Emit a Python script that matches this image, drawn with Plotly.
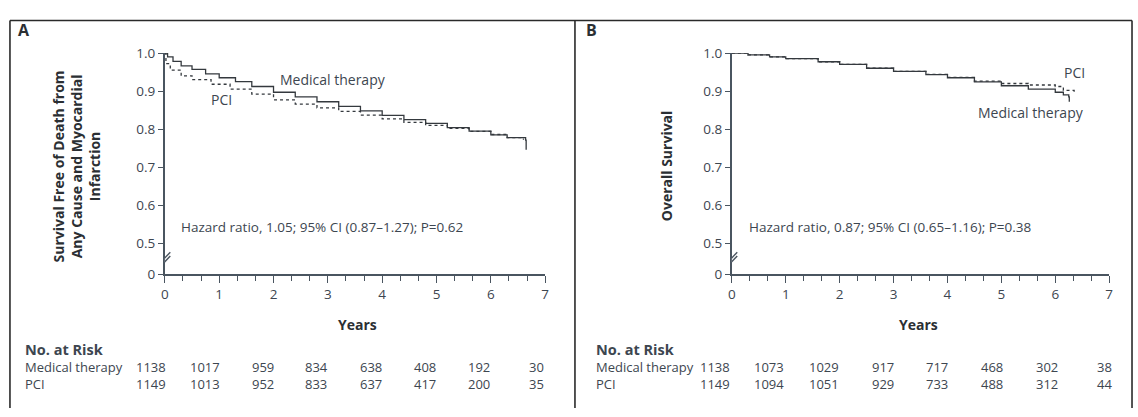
import plotly.graph_objects as go

W, H = 1138, 417
FONT = "Open Sans"
TXT = "#3d4650"
BOLD = "#2b2f33"
AXIS = "#4a5560"
LINE = "#34393e"

# ---- survival curves (years, proportion surviving) ----
a_med_t = [0, 0.05, 0.15, 0.3, 0.5, 0.75, 1.0, 1.3, 1.6, 2.0, 2.4, 2.8, 3.2, 3.6,
           4.0, 4.4, 4.8, 5.2, 5.6, 6.0, 6.3, 6.64, 6.65]
a_med_s = [1.0, 0.99, 0.978, 0.966, 0.957, 0.945, 0.935, 0.925, 0.912, 0.897, 0.885,
           0.872, 0.86, 0.848, 0.836, 0.825, 0.815, 0.804, 0.795, 0.785, 0.778, 0.771, 0.746]
a_pci_t = [0, 0.02, 0.1, 0.3, 0.5, 0.85, 1.2, 1.6, 2.0, 2.4, 2.8, 3.2, 3.6, 4.0,
           4.4, 4.8, 5.2, 5.6, 6.0, 6.3, 6.6]
a_pci_s = [1.0, 0.972, 0.955, 0.94, 0.93, 0.918, 0.905, 0.892, 0.877, 0.866, 0.856,
           0.847, 0.837, 0.827, 0.818, 0.81, 0.802, 0.794, 0.786, 0.778, 0.772]

b_med_t = [0, 0.3, 0.7, 1.0, 1.6, 2.0, 2.5, 3.0, 3.6, 4.0, 4.5, 5.0, 5.5, 6.0, 6.15, 6.25, 6.26]
b_med_s = [1.0, 0.995, 0.99, 0.985, 0.977, 0.97, 0.96, 0.952, 0.943, 0.935, 0.924,
           0.914, 0.905, 0.897, 0.89, 0.885, 0.872]
b_pci_t = [0, 0.3, 0.7, 1.0, 1.6, 2.0, 2.5, 3.0, 3.6, 4.0, 4.5, 5.0, 5.5, 6.0, 6.15, 6.35]
b_pci_s = [1.0, 0.995, 0.99, 0.985, 0.977, 0.97, 0.96, 0.952, 0.944, 0.936, 0.926,
           0.92, 0.916, 0.912, 0.902, 0.897]

# ---- axes ----
year_ticks = [0, 1, 2, 3, 4, 5, 6, 7]
y_zero = 0.4196  # position used for the "0" tick below the axis break
y_ticks = [y_zero, 0.5, 0.6, 0.7, 0.8, 0.9, 1.0]
y_tick_labels = ["0", "0.5", "0.6", "0.7", "0.8", "0.9", "1.0"]

# ---- numbers at risk ----
risk_groups = ["Medical therapy", "PCI"]
a_risk_med = [1138, 1017, 959, 834, 638, 408, 192, 30]
a_risk_pci = [1149, 1013, 952, 833, 637, 417, 200, 35]
b_risk_med = [1138, 1073, 1029, 917, 717, 468, 302, 38]
b_risk_pci = [1149, 1094, 1051, 929, 733, 488, 312, 44]


def px(x):
    return x / W


def py(y):
    return 1 - y / H


fig = go.Figure()

for t, s, xa, ya, dash in [
    (a_med_t, a_med_s, "x", "y", "solid"),
    (a_pci_t, a_pci_s, "x", "y", "dot"),
    (b_med_t, b_med_s, "x2", "y2", "solid"),
    (b_pci_t, b_pci_s, "x2", "y2", "dot"),
]:
    fig.add_trace(go.Scatter(
        x=t, y=s, mode="lines", line=dict(shape="hv", color=LINE, width=1.3, dash=dash),
        xaxis=xa, yaxis=ya, showlegend=False, hoverinfo="skip", cliponaxis=False))

xaxis_common = dict(
    range=[0, 7], tickvals=year_ticks, ticktext=[str(v) for v in year_ticks],
    showline=True, linecolor=AXIS, linewidth=1.6, ticks="outside", ticklen=7,
    tickwidth=1.4, tickcolor=AXIS, showgrid=False, zeroline=False,
    tickfont=dict(family=FONT, size=13.5, color=TXT),
    minor=dict(dtick=1 / 3, tick0=0, ticks="outside", ticklen=5, tickwidth=1.2,
               tickcolor=AXIS, showgrid=False),
    fixedrange=True,
)
yaxis_common = dict(
    range=[y_zero, 1.0], tickvals=y_ticks, ticktext=y_tick_labels,
    showline=True, linecolor=AXIS, linewidth=1.8, ticks="outside", ticklen=5,
    tickwidth=1.4, tickcolor=AXIS, showgrid=False, zeroline=False,
    tickfont=dict(family=FONT, size=13.5, color=TXT), fixedrange=True,
)

y_dom = [py(277), py(46)]
fig.update_layout(
    width=W, height=H, margin=dict(l=0, r=0, t=0, b=0),
    paper_bgcolor="white", plot_bgcolor="white",
    xaxis=dict(domain=[px(162), px(545)], anchor="y", **xaxis_common),
    yaxis=dict(domain=y_dom, anchor="x", **yaxis_common),
    xaxis2=dict(domain=[px(733), px(1113)], anchor="y2", **xaxis_common),
    yaxis2=dict(domain=y_dom, anchor="x2", **yaxis_common),
)

shapes = []
# panel frames
frame = dict(type="line", xref="paper", yref="paper", line=dict(color="#2a2a2a", width=1.6))
shapes.append(dict(frame, x0=px(6), x1=px(1136), y0=py(12), y1=py(12)))
for xx in (6, 575, 1136):
    shapes.append(dict(frame, x0=px(xx), x1=px(xx), y0=py(12), y1=0))

# axis break marks on each y axis
for xr, yr in (("x", "y"), ("x2", "y2")):
    dx = 0.1
    shapes.append(dict(type="path", xref=xr, yref=yr, layer="above",
                       path=f"M {-dx},{0.447} L {dx},{0.477} L {dx},{0.467} L {-dx},{0.437} Z",
                       fillcolor="white", line=dict(width=0)))
    for off in (0.0, -0.01):
        shapes.append(dict(type="line", xref=xr, yref=yr, layer="above",
                           x0=-dx, x1=dx, y0=0.447 + off, y1=0.477 + off,
                           line=dict(color=AXIS, width=1.4)))
fig.update_layout(shapes=shapes)

ann = []


def text(x, y, s, size=14, color=TXT, bold=False, xanchor="center", xref="paper", yref="paper",
         angle=0, yanchor="middle", align="center"):
    ann.append(dict(x=x, y=y, xref=xref, yref=yref, text=f"<b>{s}</b>" if bold else s,
                    showarrow=False, xanchor=xanchor, yanchor=yanchor, textangle=angle,
                    align=align, borderpad=0,
                    font=dict(family=FONT, size=size, color=BOLD if bold else color)))


# panel letters
text(px(13), py(22), "A", size=16, bold=True, xanchor="left")
text(px(585), py(22), "B", size=16, bold=True, xanchor="left")

# y-axis titles
text(px(73), py(164), "Survival Free of Death from<br>Any Cause and Myocardial<br>Infarction",
     size=14, bold=True, angle=-90)
text(px(668), py(164), "Overall Survival", size=14, bold=True, angle=-90)

# x-axis titles
text(px(356), py(330), "Years", size=14, bold=True)
text(px(921), py(330), "Years", size=14, bold=True)

# curve labels
text(3.1, 0.93, "Medical therapy", xref="x", yref="y")
text(1.05, 0.877, "PCI", xref="x", yref="y")
text(6.35, 0.948, "PCI", xref="x2", yref="y2")
text(5.55, 0.845, "Medical therapy", xref="x2", yref="y2")

# hazard ratios
text(0.28, 0.543, "Hazard ratio, 1.05; 95% CI (0.87\u20131.27); P=0.62", xref="x", yref="y",
     xanchor="left", size=13.5)
text(0.3, 0.543, "Hazard ratio, 0.87; 95% CI (0.65\u20131.16); P=0.38", xref="x2", yref="y2",
     xanchor="left", size=13.5)

# numbers-at-risk tables: a heading + group names block, then one block per year column
table_bottom = py(402)
for left, first_col, step, (med, pci) in ((20, 164, 54.4, (a_risk_med, a_risk_pci)),
                                          (595, 732, 55.0, (b_risk_med, b_risk_pci))):
    names = "<b style='font-size:14.5px'>No. at Risk</b><br>" + "<br>".join(risk_groups)
    text(px(left), table_bottom, names, size=13, xanchor="left", yanchor="bottom",
         align="left")
    for i, (m, p) in enumerate(zip(med, pci)):
        text(px(first_col + i * step), table_bottom, f"{m}<br>{p}", size=13,
             xanchor="right", yanchor="bottom", align="right")

fig.update_layout(annotations=ann)
fig.write_html("out.html")
